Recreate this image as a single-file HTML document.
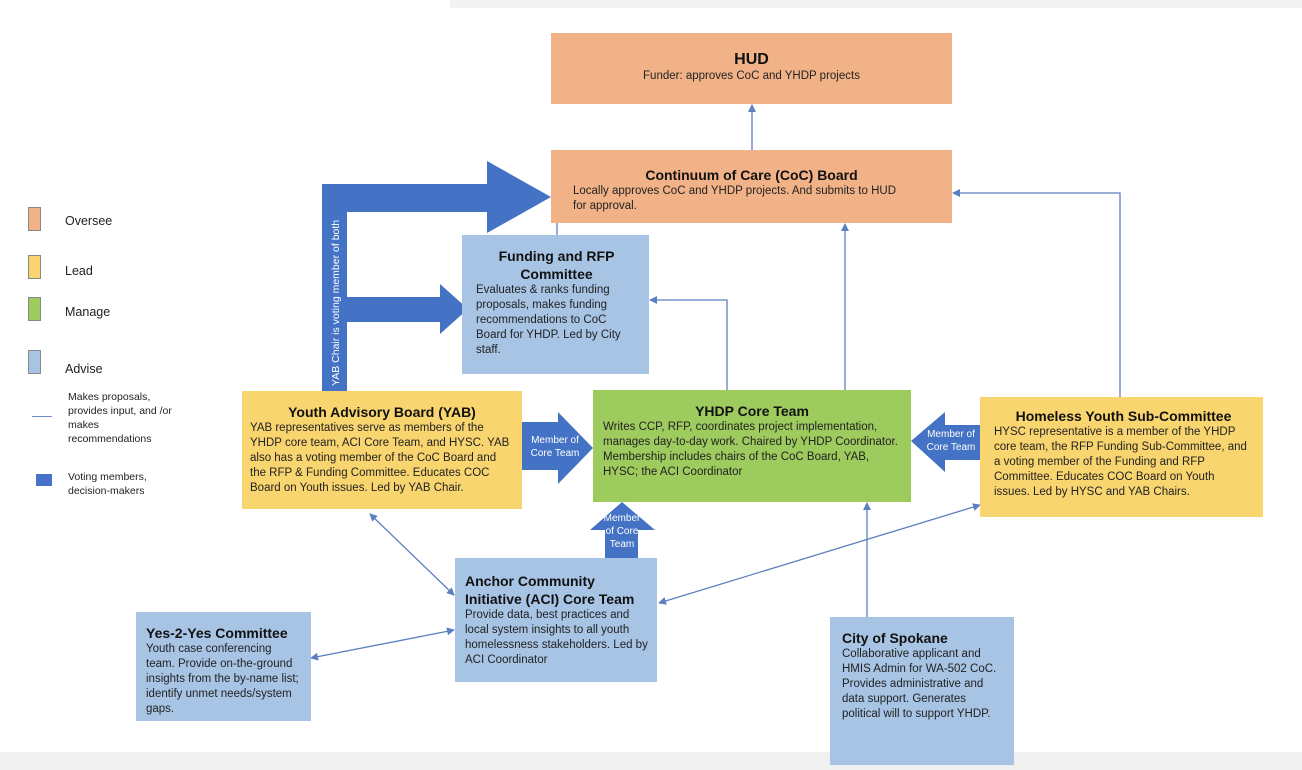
<!DOCTYPE html>
<html><head><meta charset="utf-8"><style>
body{margin:0;width:1302px;height:770px;position:relative;background:#fff;font-family:"Liberation Sans",sans-serif;overflow:hidden}
.b{position:absolute;box-sizing:border-box;font-size:11.5px;line-height:15px;color:#222;padding:4px 8px}
.b h{display:block;font-weight:bold;font-size:14px;line-height:18px;text-align:center;color:#111}
.o{background:#F2B287}.y{background:#F9D56F}.g{background:#9ECB5D}.bl{background:#A7C4E4}
.lg{position:absolute;left:28px;width:13px;height:24px;box-sizing:border-box;border:1px solid #888}
.lt{position:absolute;left:65px;font-size:12.5px;color:#222}
.sm{position:absolute;font-size:10.5px;line-height:14px;color:#222}
.w{position:absolute;color:#fff;font-size:10px;line-height:13px;text-align:center}
</style></head><body>
<div style="position:absolute;left:450px;top:0;width:852px;height:8px;background:#f2f2f2"></div>
<div style="position:absolute;left:0;top:752px;width:1302px;height:18px;background:#f0f0f0"></div>

<div class="lg o" style="top:207px"></div><div class="lt" style="top:214px">Oversee</div>
<div class="lg y" style="top:255px"></div><div class="lt" style="top:264px">Lead</div>
<div class="lg g" style="top:297px"></div><div class="lt" style="top:305px">Manage</div>
<div class="lg bl" style="top:350px"></div><div class="lt" style="top:362px">Advise</div>
<div class="sm" style="left:68px;top:390px;width:110px">Makes proposals, provides input, and /or makes recommendations</div>
<div style="position:absolute;left:32px;top:416px;width:20px;height:1px;background:#6a8cc8"></div>
<div style="position:absolute;left:36px;top:474px;width:16px;height:12px;background:#4472C4"></div>
<div class="sm" style="left:68px;top:470px;width:110px">Voting members, decision-makers</div>

<svg width="1302" height="770" style="position:absolute;left:0;top:0">
<defs><marker id="a" markerWidth="8" markerHeight="8" refX="7" refY="4" orient="auto-start-reverse" markerUnits="userSpaceOnUse"><path d="M0,0L8,4L0,8z" fill="#5B7FC0"/></marker></defs>
<g fill="#4472C4">
<rect x="322" y="184" width="25" height="207"/>
<polygon points="322,184 487,184 487,161 551,197 487,233 487,212 347,212"/>
<polygon points="347,297 440,297 440,284 468,309 440,334 440,322 347,322"/>
<polygon points="522,422 558,422 558,412 593,448 558,484 558,470 522,470"/>
<polygon points="980,425 945,425 945,412 911,441 945,472 945,460 980,460"/>
<polygon points="605,558 605,530 590,530 622,502 655,530 638,530 638,558"/>
</g>
<g stroke="#5B7FC0" stroke-width="1.3" fill="none">
<line x1="557" y1="235" x2="557" y2="212" marker-end="url(#a)"/>
<line x1="752" y1="150" x2="752" y2="105" marker-end="url(#a)"/>
<polyline points="727,390 727,300 650,300" marker-end="url(#a)"/>
<line x1="845" y1="390" x2="845" y2="224" marker-end="url(#a)"/>
<polyline points="1120,397 1120,193 953,193" marker-end="url(#a)"/>
<line x1="370" y1="514" x2="454" y2="595" marker-start="url(#a)" marker-end="url(#a)"/>
<line x1="311" y1="658" x2="454" y2="630" marker-start="url(#a)" marker-end="url(#a)"/>
<line x1="659" y1="603" x2="980" y2="505" marker-start="url(#a)" marker-end="url(#a)"/>
<line x1="867" y1="617" x2="867" y2="503" marker-end="url(#a)"/>
</g>
<text transform="translate(339,386) rotate(-90)" fill="#fff" font-size="10.5" font-family="Liberation Sans">YAB Chair is voting member of both</text>
</svg>

<div class="w" style="left:522px;top:434px;width:66px">Member of<br>Core Team</div>
<div class="w" style="left:918px;top:428px;width:66px">Member of<br>Core Team</div>
<div class="w" style="left:600px;top:512px;width:44px">Member<br>of Core<br>Team</div>

<div class="b o" style="left:551px;top:33px;width:401px;height:71px;text-align:center;padding-top:18px"><h style="font-size:16px">HUD</h>Funder: approves CoC and YHDP projects</div>
<div class="b o" style="left:551px;top:150px;width:401px;height:73px;padding:16px 50px 0 22px"><h style="margin-right:-28px">Continuum of Care (CoC) Board</h>Locally approves CoC and YHDP projects. And submits to HUD for approval.</div>
<div class="b bl" style="left:462px;top:235px;width:187px;height:139px;padding:12px 12px 0 14px"><h>Funding and RFP Committee</h>Evaluates &amp; ranks funding proposals, makes funding recommendations to CoC Board for YHDP. Led by City staff.</div>
<div class="b y" style="left:242px;top:391px;width:280px;height:118px;padding:12px 8px 0"><h>Youth Advisory Board (YAB)</h>YAB representatives serve as members of the YHDP core team, ACI Core Team, and HYSC. YAB also has a voting member of the CoC Board and the RFP &amp; Funding Committee. Educates COC Board on Youth issues. Led by YAB Chair.</div>
<div class="b g" style="left:593px;top:390px;width:318px;height:112px;padding:12px 10px 0"><h>YHDP Core Team</h>Writes CCP, RFP, coordinates project implementation, manages day-to-day work. Chaired by YHDP Coordinator. Membership includes chairs of the CoC Board, YAB, HYSC; the ACI Coordinator</div>
<div class="b y" style="left:980px;top:397px;width:283px;height:120px;padding:10px 10px 0 14px"><h>Homeless Youth Sub-Committee</h>HYSC representative is a member of the YHDP core team, the RFP Funding Sub-Committee, and a voting member of the Funding and RFP Committee. Educates COC Board on Youth issues. Led by HYSC and YAB Chairs.</div>
<div class="b bl" style="left:455px;top:558px;width:202px;height:124px;padding:14px 8px 0 10px"><h style="text-align:left">Anchor Community Initiative (ACI) Core Team</h>Provide data, best practices and local system insights to all youth homelessness stakeholders. Led by ACI Coordinator</div>
<div class="b bl" style="left:136px;top:612px;width:175px;height:109px;padding:12px 8px 0 10px"><h style="text-align:left">Yes-2-Yes Committee</h>Youth case conferencing team. Provide on-the-ground insights from the by-name list; identify unmet needs/system gaps.</div>
<div class="b bl" style="left:830px;top:617px;width:184px;height:148px;padding:12px 8px 0 12px"><h style="text-align:left">City of Spokane</h>Collaborative applicant and HMIS Admin for WA-502 CoC. Provides administrative and data support. Generates political will to support YHDP.</div>
</body></html>
